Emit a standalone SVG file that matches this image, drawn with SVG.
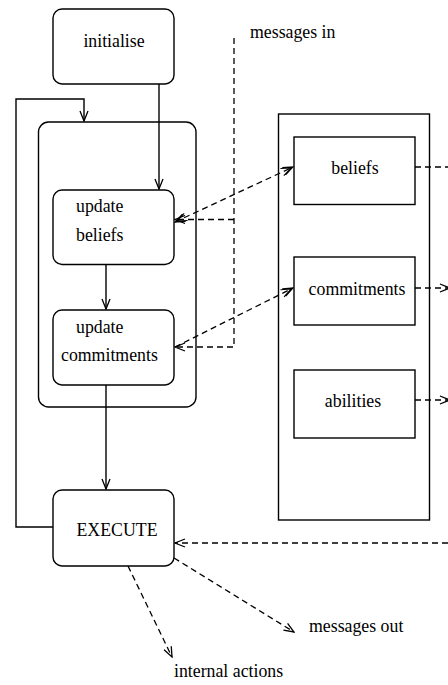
<svg xmlns="http://www.w3.org/2000/svg" width="448" height="685" viewBox="0 0 448 685">
<defs>
<style>
.box{fill:#fff;stroke:#000;stroke-width:1.4}
.frame{fill:none;stroke:#000;stroke-width:1.4}
.ln{fill:none;stroke:#000;stroke-width:1.4}
.dl{fill:none;stroke:#000;stroke-width:1.3;stroke-dasharray:6 4}
.t{font-family:'Liberation Serif','DejaVu Serif',serif;font-size:17.8px;fill:#000}
.c{text-anchor:middle}
</style>
<marker id="ah" viewBox="0 0 12 10" refX="11" refY="5" markerWidth="12" markerHeight="10" markerUnits="userSpaceOnUse" orient="auto">
<path d="M1,1 L11,5 L1,9" fill="none" stroke="#000" stroke-width="1.3"/>
</marker>
<marker id="ah2" viewBox="0 0 14 10" refX="13" refY="5" markerWidth="14" markerHeight="10" markerUnits="userSpaceOnUse" orient="auto">
<path d="M1,1 L11,5 L1,9 M3,1 L13,5 L3,9" fill="none" stroke="#000" stroke-width="1.1"/>
</marker>
<marker id="ah2s" viewBox="0 0 14 10" refX="1" refY="5" markerWidth="14" markerHeight="10" markerUnits="userSpaceOnUse" orient="auto">
<path d="M13,1 L3,5 L13,9 M11,1 L1,5 L11,9" fill="none" stroke="#000" stroke-width="1.1"/>
</marker>
</defs>

<g id="connectors">
<path class="ln" d="M159,84 V189" marker-end="url(#ah)"/>
<path class="ln" d="M106,265 V309" marker-end="url(#ah)"/>
<path class="ln" d="M106,385 V489" marker-end="url(#ah)"/>
<path class="ln" d="M53,527 H16 V99 H84 V121" marker-end="url(#ah)"/>
<path class="dl" d="M234,38 V347 H175" marker-end="url(#ah)"/>
<path class="dl" d="M234,219.5 H175" marker-end="url(#ah)"/>
<path class="dl" d="M175,222 L293,167" marker-start="url(#ah2s)" marker-end="url(#ah2)"/>
<path class="dl" d="M175,347 L293,288" marker-end="url(#ah2)"/>
<path class="dl" d="M415,167 H460" marker-end="url(#ah)"/>
<path class="dl" d="M415,288 H450" marker-end="url(#ah)"/>
<path class="dl" d="M415,400 H450" marker-end="url(#ah)"/>
<path class="dl" d="M448,543 H175" marker-end="url(#ah)"/>
<path class="dl" d="M128,566 L172,657" marker-end="url(#ah)"/>
<path class="dl" d="M174,558 L294,632" marker-end="url(#ah)"/>
</g>

<g id="control-frame">
<rect class="frame" x="38.5" y="122" width="157.5" height="285" rx="10"/>
</g>

<g id="initialise">
<rect class="box" x="53" y="9" width="121" height="75" rx="9"/>
<text class="t c" font-family="Liberation Serif, serif" x="114" y="47">initialise</text>
</g>

<g id="update-beliefs">
<rect class="box" x="53" y="190" width="121" height="74.5" rx="9"/>
<text class="t" font-family="Liberation Serif, serif" x="76" y="212">update</text>
<text class="t" font-family="Liberation Serif, serif" x="76" y="241">beliefs</text>
</g>

<g id="update-commitments">
<rect class="box" x="53" y="310" width="121" height="75" rx="9"/>
<text class="t" font-family="Liberation Serif, serif" x="76" y="333">update</text>
<text class="t" font-family="Liberation Serif, serif" x="61" y="361">commitments</text>
</g>

<g id="execute">
<rect class="box" x="53" y="490" width="121" height="76" rx="9"/>
<text class="t c" font-family="Liberation Serif, serif" x="117" y="536">EXECUTE</text>
</g>

<g id="knowledge-base">
<rect class="frame" x="278.5" y="114" width="151" height="406"/>
</g>

<g id="beliefs">
<rect class="box" x="294" y="137" width="121" height="67.5"/>
<text class="t c" font-family="Liberation Serif, serif" x="355" y="174">beliefs</text>
</g>

<g id="commitments">
<rect class="box" x="294" y="257" width="121" height="68"/>
<text class="t c" font-family="Liberation Serif, serif" x="357" y="295">commitments</text>
</g>

<g id="abilities">
<rect class="box" x="294" y="370" width="121" height="68"/>
<text class="t c" font-family="Liberation Serif, serif" x="353" y="407">abilities</text>
</g>

<g id="labels">
<text class="t" font-family="Liberation Serif, serif" x="250" y="38">messages in</text>
<text class="t" font-family="Liberation Serif, serif" x="309" y="632">messages out</text>
<text class="t" font-family="Liberation Serif, serif" x="174" y="677">internal actions</text>
</g>
</svg>
